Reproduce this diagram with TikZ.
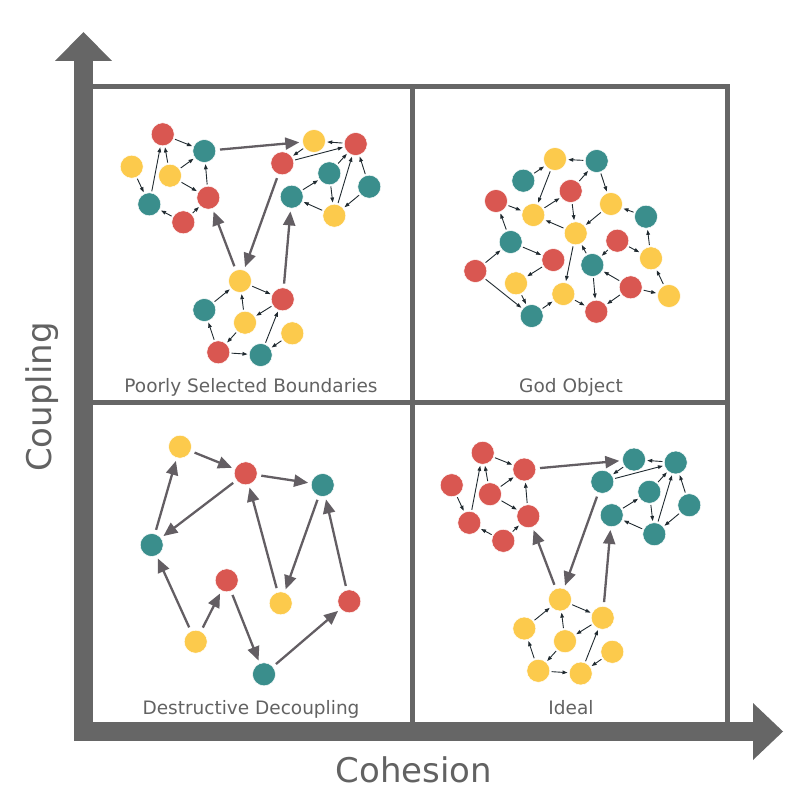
\documentclass[tikz,border=0pt]{standalone}
\usepackage{fontspec}
\setmainfont{DejaVu Sans}
\usetikzlibrary{arrows.meta}

\definecolor{nodered}{RGB}{217,87,81}
\definecolor{nodeteal}{RGB}{58,142,140}
\definecolor{nodeyellow}{RGB}{252,202,76}
\definecolor{framegray}{RGB}{102,102,102}
\definecolor{linkgray}{RGB}{99,94,99}
\definecolor{tiedark}{RGB}{32,42,48}
\definecolor{labelgray}{RGB}{98,98,98}

\tikzset{
  vert/.style={circle, minimum size=23pt, inner sep=0pt, draw=white, line width=0.5pt},
  tie/.style={-{Triangle[length=5pt,width=3.6pt]}, line width=0.9pt, draw=tiedark,
    shorten >=1.5pt, shorten <=1.5pt},
  link/.style={-{Triangle[length=14pt,width=12pt]}, line width=2.3pt, draw=linkgray,
    shorten >=3pt, shorten <=4pt},
  quadlabel/.style={anchor=base, text=labelgray, font=\fontsize{18.5}{20}\selectfont},
  axislabel/.style={text=labelgray, font=\fontsize{34}{36}\selectfont}
}

% edges shared by the two three-cluster graphs
\newcommand{\flowedges}[1]{%
  \foreach \s/\t in {a1/a2, a4/a2, a4/a1, a6/a1, a3/a6, a4/a5, a5/a2, a7/a6, a7/a5,
      b2/b1, b1/b3, b3/b2, b4/b2, b6/b4, b4/b7, b7/b2, b5/b2, b5/b7, b7/b6,
      c1/c2, c3/c1, c4/c1, c2/c4, c6/c3, c4/c6, c6/c7, c7/c2, c5/c7}
    \draw[tie] (#1\s) -- (#1\t);
  \foreach \s/\t in {a2/b1, b3/c1, c1/a5, c2/b6}
    \draw[link] (#1\s) -- (#1\t);
}

\begin{document}
\begin{tikzpicture}[x=1pt, y=-1pt]
  \useasboundingbox (0,0) rectangle (800,800);

  % frame and quadrants
  \draw[framegray, line width=5pt] (93,86.5) -| (727.5,722);
  \draw[framegray, line width=5pt] (412,86.5) -- (412,722);
  \draw[framegray, line width=5pt] (93,402.5) -- (727.5,402.5);

  % axes
  \draw[framegray, line width=19pt] (83.5,741) -- (83.5,61);
  \fill[framegray] (55,61) -- (83.5,32) -- (112,61) -- cycle;
  \draw[framegray, line width=19pt] (74,731.5) -- (753,731.5);
  \fill[framegray] (753,703) -- (783,731.5) -- (753,760) -- cycle;
  \node[axislabel, rotate=90] (coupling) at (42,397) {Coupling};
  \node[axislabel, anchor=base] (cohesion) at (414,782.5) {Cohesion};

  % poorly selected boundaries
  \foreach \n/\x/\y/\c in {
      a1/162.7/134.3/nodered, a2/204.3/151/nodeteal, a3/131.7/166.7/nodeyellow,
      a4/170/175.7/nodeyellow, a5/208.3/197.7/nodered, a6/149.3/204.3/nodeteal,
      a7/183.3/222.3/nodered,
      b1/314/141/nodeyellow, b2/355.7/144/nodered, b3/282.3/163.3/nodered,
      b4/329.3/173.3/nodeteal, b5/369.3/186.7/nodeteal, b6/291.7/196.7/nodeteal,
      b7/334.3/215.7/nodeyellow,
      c1/240/281/nodeyellow, c2/282.7/299.3/nodered, c3/204.3/310/nodeteal,
      c4/245/322.7/nodeyellow, c5/292.3/333.3/nodeyellow, c6/218.3/352.3/nodered,
      c7/260.7/355/nodeteal}
    \node[vert, fill=\c] (p\n) at (\x,\y) {};
  \flowedges{p}
  \node[quadlabel] (poorly) at (251,392) {Poorly Selected Boundaries};

  % ideal
  \begin{scope}[shift={(320,318.5)}]
    \foreach \n/\x/\y in {a1/162.7/134.3, a2/204.3/151, a3/131.7/166.7, a4/170/175.7,
        a5/208.3/197.7, a6/149.3/204.3, a7/183.3/222.3}
      \node[vert, fill=nodered] (i\n) at (\x,\y) {};
    \foreach \n/\x/\y in {b1/314/141, b2/355.7/144, b3/282.3/163.3, b4/329.3/173.3,
        b5/369.3/186.7, b6/291.7/196.7, b7/334.3/215.7}
      \node[vert, fill=nodeteal] (i\n) at (\x,\y) {};
    \foreach \n/\x/\y in {c1/240/281, c2/282.7/299.3, c3/204.3/310, c4/245/322.7,
        c5/292.3/333.3, c6/218.3/352.3, c7/260.7/355}
      \node[vert, fill=nodeyellow] (i\n) at (\x,\y) {};
    \flowedges{i}
  \end{scope}
  \node[quadlabel] (ideal) at (571,714) {Ideal};

  % god object
  \foreach \n/\x/\y/\c in {
      1/555/159/nodeyellow, 2/596.7/161/nodeteal, 3/523.3/180.7/nodeteal,
      4/570.7/191/nodered, 5/496/201/nodered, 6/611/204/nodeyellow,
      7/533.3/215/nodeyellow, 8/646/216.7/nodeteal, 9/575.7/233.3/nodeyellow,
      10/510.7/242/nodeteal, 11/617.3/240.7/nodered, 12/553.3/260/nodered,
      13/651/258.3/nodeyellow, 14/592.3/265/nodeteal, 15/475.3/271/nodered,
      16/516/283.3/nodeyellow, 17/630.7/287.3/nodered, 18/563.3/294/nodeyellow,
      19/669/296/nodeyellow, 20/596.3/311.7/nodered, 21/531.7/316/nodeteal}
    \node[vert, fill=\c] (g\n) at (\x,\y) {};
  \foreach \s/\t in {2/1, 3/1, 1/7, 4/2, 7/4, 5/7, 2/6, 4/9, 6/9, 9/7, 8/6,
      10/5, 10/12, 15/10, 12/16, 16/21, 15/21, 21/18, 9/18, 18/20, 14/9,
      11/14, 11/13, 13/8, 14/20, 17/14, 17/20, 17/19, 19/13}
    \draw[tie] (g\s) -- (g\t);
  \node[quadlabel] (godobject) at (571,392) {God Object};

  % destructive decoupling
  \foreach \n/\x/\y/\c in {
      1/180/446.7/nodeyellow, 2/245.7/473.3/nodered, 3/322.7/485/nodeteal,
      4/151.7/545/nodeteal, 5/226.7/580.3/nodered, 6/280.7/603.3/nodeyellow,
      7/349.3/601.3/nodered, 8/195.7/641.7/nodeyellow, 9/264/674.3/nodeteal}
    \node[vert, fill=\c] (d\n) at (\x,\y) {};
  \foreach \s/\t in {1/2, 2/3, 2/4, 4/1, 8/4, 8/5, 5/9, 9/7, 7/3, 3/6, 6/2}
    \draw[link] (d\s) -- (d\t);
  \node[quadlabel] (destructive) at (251,714) {Destructive Decoupling};
\end{tikzpicture}
\end{document}
